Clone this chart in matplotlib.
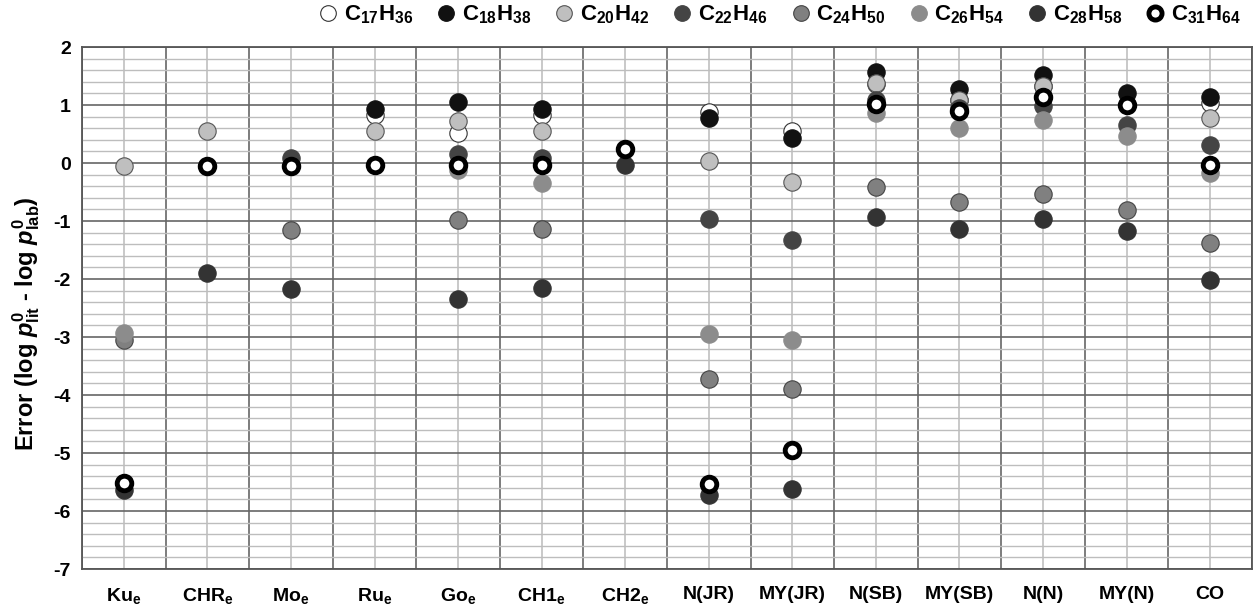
import numpy as np
import matplotlib
matplotlib.use("Agg")
import matplotlib.pyplot as plt

plt.rcParams['font.family'] = ['Liberation Sans', 'DejaVu Sans']
plt.rcParams['font.weight'] = 'bold'
plt.rcParams['mathtext.fontset'] = 'custom'
plt.rcParams['mathtext.rm'] = 'Liberation Sans:bold'
plt.rcParams['mathtext.bf'] = 'Liberation Sans:bold'
plt.rcParams['mathtext.it'] = 'Liberation Sans:italic:bold'

# categories (x axis)
methods = ['Ku$_\\mathregular{e}$', 'CHR$_\\mathregular{e}$', 'Mo$_\\mathregular{e}$',
           'Ru$_\\mathregular{e}$', 'Go$_\\mathregular{e}$', 'CH1$_\\mathregular{e}$',
           'CH2$_\\mathregular{e}$', 'N(JR)', 'MY(JR)', 'N(SB)', 'MY(SB)', 'N(N)',
           'MY(N)', 'CO']

nan = np.nan
# error values per compound, one per method (nan = not shown)
c17 = [nan, nan, nan, 0.83, 0.51, 0.83, nan, 0.88, 0.55, 1.36, 1.08, 1.32, nan, 1.04]
c18 = [nan, nan, nan, 0.93, 1.05, 0.93, nan, 0.78, 0.44, 1.57, 1.27, 1.52, 1.20, 1.14]
c20 = [-0.05, 0.56, nan, 0.56, 0.73, 0.55, nan, 0.03, -0.32, 1.38, 1.09, 1.32, nan, 0.77]
c22 = [nan, nan, 0.08, nan, 0.16, 0.08, nan, -0.97, -1.33, 1.09, 0.95, 0.98, 0.66, 0.31]
c24 = [-3.05, nan, -1.16, nan, -0.99, -1.14, nan, -3.72, -3.90, -0.41, -0.68, -0.54, -0.81, -1.38]
c26 = [-2.93, nan, nan, nan, -0.12, -0.35, nan, -2.94, -3.05, 0.86, 0.60, 0.74, 0.47, -0.17]
c28 = [-5.64, -1.90, -2.18, nan, -2.35, -2.16, -0.03, -5.72, -5.62, -0.93, -1.14, -0.97, -1.18, -2.01]
c31 = [-5.52, -0.05, -0.05, -0.03, -0.03, -0.03, 0.25, -5.54, -4.95, 1.02, 0.89, 1.13, 1.00, -0.03]

series = [
    ('$\\mathregular{C_{17}H_{36}}$', c17, 'white', '#333333', 0.8),
    ('$\\mathregular{C_{18}H_{38}}$', c18, '#111111', '#111111', 0.8),
    ('$\\mathregular{C_{20}H_{42}}$', c20, '#bfbfbf', '#555555', 0.8),
    ('$\\mathregular{C_{22}H_{46}}$', c22, '#444444', '#444444', 0.8),
    ('$\\mathregular{C_{24}H_{50}}$', c24, '#808080', '#444444', 0.8),
    ('$\\mathregular{C_{26}H_{54}}$', c26, '#8c8c8c', '#8c8c8c', 0.8),
    ('$\\mathregular{C_{28}H_{58}}$', c28, '#333333', '#333333', 0.8),
    ('$\\mathregular{C_{31}H_{64}}$', c31, 'white', '#000000', 3.5),
]

fig = plt.figure(figsize=(12.56, 6.06), dpi=100)
ax = fig.add_axes([0.0653, 0.061, 0.9315, 0.8614])

x = np.arange(len(methods))
for label, vals, fc, ec, lw in series:
    ms = 12.5 if lw < 1 else 10.5
    ax.plot(x, vals, 'o', ls='none', ms=ms, mfc=fc, mec=ec, mew=lw,
            label=label, zorder=3, clip_on=False)

ax.set_xlim(-0.5, len(methods) - 0.5)
ax.set_ylim(-7, 2)
ax.set_yticks(np.arange(-7, 3, 1))
ax.set_yticks(np.arange(-7, 2.01, 0.2), minor=True)
ax.set_xticks(x)
ax.set_xticks(np.arange(-0.5, len(methods), 1), minor=True)
ax.set_xticklabels(methods, fontsize=14, fontweight='bold')
ax.set_yticklabels([str(v) for v in range(-7, 3)], fontsize=14, fontweight='bold')
ax.tick_params(which='both', length=0)
ax.tick_params(axis='x', pad=12)
ax.tick_params(axis='y', pad=8)

# grid lines
ax.grid(axis='y', which='minor', color='#bdbdbd', lw=1.0, zorder=0)
ax.grid(axis='y', which='major', color='#666666', lw=1.2, zorder=1)
ax.grid(axis='x', which='major', color='#c0c0c0', lw=1.2, zorder=0)
ax.grid(axis='x', which='minor', color='#666666', lw=1.2, zorder=1)
ax.set_axisbelow(True)
for sp in ax.spines.values():
    sp.set_color('#555555')
    sp.set_linewidth(1.3)

ax.set_ylabel('Error (log $\\mathit{p}^{0}_{\\mathregular{lit}}$ - log $\\mathit{p}^{0}_{\\mathregular{lab}}$)',
              fontsize=17, fontweight='bold')
ax.yaxis.set_label_coords(-0.034, 0.47)

fig.legend(loc='upper right', bbox_to_anchor=(1.0, 1.02), ncol=8, frameon=False,
           fontsize=16, handlelength=1.0, handletextpad=0.2, columnspacing=1.0,
           borderaxespad=0.3, markerscale=0.9)

fig.savefig('out.png', dpi=100)
